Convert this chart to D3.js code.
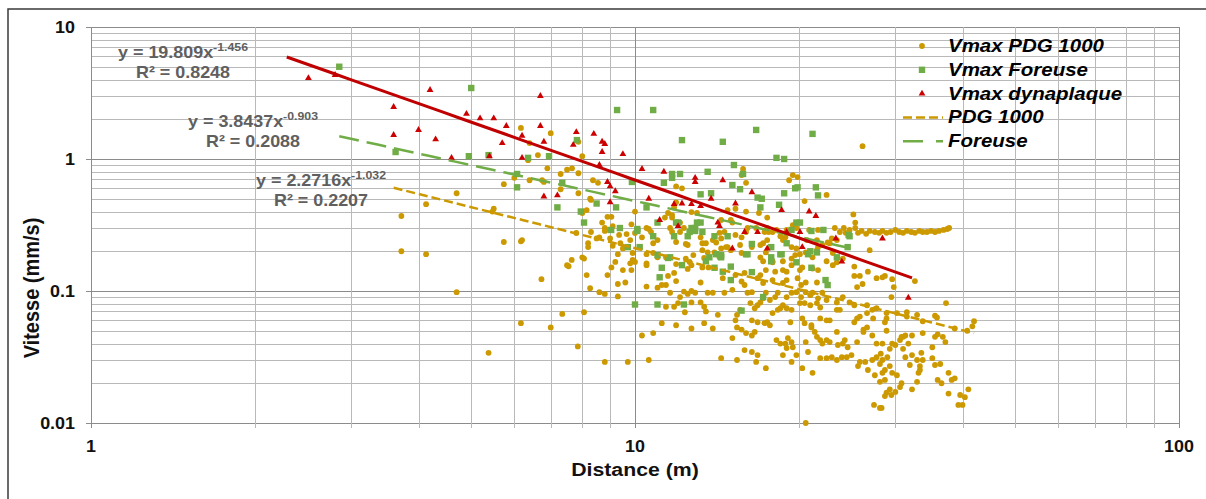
<!DOCTYPE html>
<html>
<head>
<meta charset="utf-8">
<script src="https://cdn.jsdelivr.net/npm/d3@7"></script>
<style>
  body { margin: 0; background: #fff; }
  text { font-family: "Liberation Sans", Arial, sans-serif; font-weight: bold; }
</style>
</head>
<body>
<div id="chart"></div>
<script>
// Vmax PDG 1000 : [distance (m), vitesse (mm/s)]
var pdgPoints = [
  [3.72,0.37],[4.13,0.455],[4.7,0.55],[5.5,0.42],[5.47,0.40],[5.74,0.645],[6.0,0.72],[6.17,1.72],[5.74,0.235],[6.17,0.238],
  [3.72,0.20],[4.13,0.19],[4.7,0.098],[5.38,0.034],[6.4,1.32],[6.63,1.07],[7.0,1.57],[7.87,1.35],[8.0,1.05],[6.36,0.98],
  [6.9,0.85],[7.3,0.77],[7.5,0.83],[7.66,0.85],[7.87,0.78],[6.8,0.67],[7.3,0.59],[7.87,0.55],[8.37,0.69],[8.55,0.66],
  [8.27,0.50],[8.0,0.39],[8.15,0.41],[8.3,0.49],[8.9,0.365],[8.8,0.30],[9.1,0.31],[9.35,0.266],[9.0,0.25],[9.4,0.23],
  [9.1,0.22],[9.65,0.215],[9.8,0.243],[10.0,0.40],[9.85,0.32],[10.0,0.275],[10.6,0.295],[10.5,0.19],[10.8,0.23],[11.0,0.18],
  [11.4,0.18],[11.7,0.376],[11.8,0.43],[12.2,0.60],[11.9,0.47],[12.3,0.30],[12.4,0.227],[13.3,0.23],[13.4,0.178],[12.8,0.29],
  [8.2,0.23],[8.3,0.28],[8.0,0.18],[6.2,0.243],[6.4,0.69],[6.75,0.69],[9.05,0.365],[8.6,0.255],[7.55,0.154],[8.06,0.176],
  [8.2,0.215],[6.73,0.123],[7.8,0.275],[8.5,0.25],[7.65,0.172],[8.9,0.29],[9.65,0.27],[9.3,0.19],[9.9,0.172],[9.5,0.144],
  [9.2,0.166],[8.9,0.132],[8.15,0.132],[7.5,0.157],
  [6.17,0.057],[7.0,0.053],[7.35,0.067],[8.06,0.069],[7.85,0.038],[8.27,0.105],[8.6,0.098],[8.8,0.095],[9.05,0.151],[9.3,0.113],
  [9.6,0.116],[9.3,0.091],[9.85,0.144],[9.8,0.162],[10.0,0.166],[10.5,0.162],[10.5,0.108],[10.3,0.046],[10.8,0.048],[8.8,0.029],
  [9.7,0.029],[10.6,0.03],[11.0,0.106],[11.2,0.111],[11.4,0.111],[11.5,0.13],[11.8,0.137],[11.9,0.119],[11.6,0.097],[11.4,0.076],
  [11.8,0.076],[12.1,0.09],[12.0,0.081],[12.3,0.099],[12.5,0.095],[12.7,0.1],[12.9,0.097],[12.35,0.069],[12.7,0.082],[13.2,0.082],
  [13.4,0.076],[13.5,0.07],[13.6,0.097],[13.9,0.097],[14.2,0.066],[11.2,0.057],[11.9,0.055],[12.7,0.052],[13.4,0.057],[13.9,0.052],
  [13.2,0.116],[12.5,0.147],[13.3,0.151],[12.6,0.166],[13.65,0.151],[11.9,0.16],[12.7,0.157],[12.4,0.176],[12.8,0.187],[13.3,0.204],
  [13.9,0.243],[14.4,0.25],[14.6,0.28],[10.8,0.194],[10.5,0.157],[12.1,0.28],[11.5,0.39],[11.7,0.36],[11.9,0.62],[12.7,0.396],
  [13.0,0.39],[11.7,0.28],[10.5,0.30],[10.3,0.255],[9.9,0.194],[10.2,0.215],[9.5,0.21],[8.7,0.33],[11.0,0.243],[11.9,0.235],
  [13.6,0.196],[14.1,0.233],[14.3,0.18],[11.35,0.36],
  [26.2,1.25],[15.8,0.84],[15.7,0.756],[16.0,0.66],[19.2,0.69],[19.5,0.756],[19.9,0.73],[20.5,0.48],[22.5,0.534],[17.5,0.36],
  [14.8,0.41],[16.0,0.40],[16.9,0.39],[25.2,0.38],[25.4,0.33],[17.5,0.30],[19.0,0.29],[19.5,0.316],[19.8,0.30],[18.5,0.26],
  [15.3,0.42],[15.0,0.345],[16.0,0.28],[15.7,0.255],[16.4,0.215],[17.4,0.196],[17.9,0.168],[18.7,0.168],[15.1,0.33],[14.4,0.345],
  [15.3,0.266],[16.1,0.30],[16.7,0.30],[17.3,0.28],[17.6,0.28],[18.2,0.29],[15.6,0.223],[17.2,0.23],[18.7,0.243],[19.4,0.215],
  [19.7,0.187],[20.7,0.243],[21.6,0.243],[22.1,0.223],[22.8,0.23],[23.5,0.243],[27.0,0.204],[14.4,0.21],[14.8,0.215],[15.7,0.194],
  [17.0,0.18],[18.9,0.255],[20.1,0.19],[22.6,0.233],[23.0,0.25],[20.9,0.29],[21.7,0.29],[23.3,0.30],[24.2,0.30],[25.4,0.30],
  [23.8,0.28],[24.4,0.276],[24.8,0.29],[25.7,0.276],[26.1,0.285],[26.6,0.271],[27.0,0.285],[27.6,0.28],[28.1,0.276],[28.5,0.285],
  [29.0,0.276],[29.5,0.28],[30.1,0.29],[30.6,0.28],[31.1,0.276],[31.6,0.285],[32.2,0.28],[32.7,0.276],[33.3,0.285],[33.8,0.28],
  [34.4,0.28],[35.0,0.285],[35.6,0.28],[36.2,0.285],[36.9,0.29],[37.5,0.295],[37.8,0.30],
  [28.5,0.127],[29.7,0.123],[29.9,0.107],[32.7,0.119],[29.6,0.09],[37.3,0.081],[25.6,0.107],[26.8,0.14],[27.8,0.125],[22.5,0.168],
  [23.1,0.194],[23.5,0.165],[24.1,0.176],[25.3,0.153],[21.6,0.204],[21.2,0.18],[20.6,0.196],[19.8,0.21],[19.4,0.176],
  [17.2,0.168],[17.9,0.165],[17.4,0.144],[18.1,0.14],[18.7,0.144],[19.0,0.14],[19.4,0.157],[20.1,0.144],[20.3,0.151],[21.2,0.148],
  [21.7,0.144],[23.1,0.157],[25.3,0.13],[25.9,0.13],[28.8,0.13],[26.2,0.113],[15.9,0.137],[15.7,0.118],[16.8,0.125],[17.0,0.132],
  [17.9,0.121],[18.7,0.115],[19.0,0.121],[17.2,0.115],[19.9,0.125],[20.2,0.111],[20.6,0.116],[20.6,0.098],[21.6,0.116],[14.5,0.125],
  [15.3,0.132],[14.6,0.097],[15.1,0.102],[15.9,0.111],[16.1,0.097],[16.4,0.098],[17.4,0.097],[17.7,0.0855],[18.1,0.09],[18.3,0.097],
  [19.0,0.09],[19.4,0.097],[19.8,0.098],[20.2,0.09],[21.0,0.093],[21.2,0.097],[21.7,0.088],[22.1,0.097],[22.5,0.0855],[23.5,0.082],
  [24.1,0.09],[24.8,0.082],[20.1,0.081],[20.5,0.081],[21.0,0.078],[21.6,0.081],[21.9,0.075],[18.5,0.074],[18.7,0.078],[18.3,0.072],
  [19.4,0.072],[17.9,0.068],[16.6,0.074],[16.8,0.078],[16.3,0.081],[17.0,0.082],[17.2,0.088],[15.4,0.066],[15.3,0.06],[15.6,0.072],
  [16.4,0.06],[16.8,0.058],[17.3,0.057],[17.5,0.058],[17.7,0.055],[19.0,0.074],[19.3,0.058],[20.3,0.062],[20.5,0.057],[21.1,0.055],
  [21.9,0.062],[22.5,0.06],[22.8,0.06],[23.5,0.072],[23.8,0.072],[25.3,0.058],[25.6,0.062],[25.9,0.064],[26.7,0.068],[27.3,0.072],
  [27.8,0.074],[27.4,0.062],[28.8,0.058],[29.0,0.068],[30.3,0.068],[31.6,0.069],[33.0,0.066],[26.3,0.051],[26.7,0.078],[25.3,0.078],
  [15.1,0.044],[15.4,0.053],[15.7,0.051],[16.0,0.048],[16.4,0.046],[16.6,0.049],[18.2,0.0425],[18.5,0.040],[18.9,0.040],[19.1,0.044],
  [19.4,0.041],[19.5,0.0375],[20.6,0.041],[21.1,0.053],[21.4,0.049],[21.6,0.045],[21.9,0.0425],[22.1,0.040],[22.5,0.0425],[22.8,0.041],
  [23.5,0.049],[23.6,0.039],[24.1,0.040],[24.3,0.0425],[24.6,0.0375],[25.6,0.041],[26.3,0.049],[26.7,0.053],[27.3,0.046],[27.8,0.040],
  [28.5,0.040],[29.4,0.0365],[30.7,0.0425],[30.9,0.045],[31.4,0.046],[32.3,0.046],[29.7,0.040],[31.1,0.0365],[14.4,0.031],[15.4,0.030],
  [15.9,0.0357],[16.4,0.0345],[16.8,0.0327],[16.7,0.029],[17.4,0.026],[18.7,0.0327],[19.0,0.037],[19.4,0.029],[19.8,0.0327],[20.3,0.026],
  [20.8,0.0345],[21.2,0.024],[21.9,0.031],[22.5,0.031],[23.0,0.0315],[23.5,0.030],[24.0,0.0315],[24.5,0.0315],[25.0,0.0327],[25.7,0.027],
  [25.9,0.029],[26.5,0.029],[26.8,0.0252],[27.3,0.030],[27.8,0.0315],[28.3,0.0335],[28.5,0.030],[29.1,0.0315],[29.4,0.027],[29.7,0.024],
  [30.3,0.023],[31.4,0.0315],[32.0,0.0275],[32.3,0.0327],[33.0,0.030],[33.4,0.027],[27.6,0.023],[28.5,0.024],[28.8,0.0212],[28.2,0.0205],
  [30.9,0.020],[30.7,0.0187],[29.4,0.018],[29.0,0.017],[28.8,0.016],[29.6,0.0163],[30.1,0.0172],[32.3,0.018],[33.2,0.024],[27.5,0.0137],
  [28.2,0.013],[20.6,0.010],
  [31.6,0.064],[33.8,0.059],[35.9,0.063],[38.7,0.052],[40.8,0.05],[41.7,0.054],[42.0,0.059],[29.0,0.062],[29.0,0.05],[31.1,0.045],
  [30.1,0.039],[31.8,0.040],[33.8,0.048],[35.6,0.045],[36.0,0.047],[36.8,0.045],[37.2,0.041],[33.6,0.034],[35.2,0.0375],[35.2,0.031],
  [33.8,0.030],[35.6,0.0275],[36.4,0.028],[33.4,0.0252],[33.0,0.0205],[28.4,0.013],[36.0,0.0212],[36.6,0.020],[37.7,0.024],[38.2,0.0212],
  [38.7,0.0218],[37.7,0.0167],[39.6,0.0163],[41.0,0.018],[40.4,0.0157],[39.3,0.0137],[40.0,0.0137],[28.2,0.028],[28.8,0.0252],[35.6,0.065],
  [8.8,0.285],[10.7,0.28],[11.6,0.30],[12.1,0.33],[12.5,0.223],[13.2,0.255],[13.5,0.23],[14.0,0.196],[14.3,0.276],[14.7,0.215],
  [15.0,0.204],[17.0,0.223],[17.5,0.243],[17.9,0.28],[21.7,0.215]
];

// Vmax Foreuse
var foreusePoints = [
  [2.86,5.0],[5.0,3.45],[3.63,1.13],[4.95,1.05],[5.38,1.07],[6.36,1.02],[6.95,1.05],[6.07,0.77],[6.07,0.61],[9.27,2.35],
  [10.8,2.35],[12.2,1.39],[14.5,1.35],[16.7,1.66],[7.82,1.39],[7.35,0.66],[7.2,0.43],[7.95,0.40],[8.06,0.33],[8.5,0.46],
  [9.23,0.43],[9.04,0.29],[9.38,0.30],[9.87,0.67],[10.5,0.43],[9.7,0.215],[10.2,0.215],[10.1,0.295],[10.8,0.26],[11.0,0.33],
  [11.3,0.66],[11.7,0.77],[12.1,0.77],[11.7,0.72],[11.9,0.33],[11.5,0.178],[11.8,0.26],[12.5,0.26],[12.7,0.30],[12.9,0.30],
  [13.0,0.33],[13.2,0.54],[13.6,0.8],[13.8,0.55],[14.0,0.26],[13.3,0.28],[13.7,0.18],[14.1,0.19],[21.2,1.55],[18.2,1.02],
  [18.8,1.0],[15.2,0.90],[15.8,0.77],[15.1,0.635],[15.6,0.59],[18.8,0.55],[19.7,0.60],[19.9,0.61],[21.5,0.61],[21.7,0.53],
  [16.8,0.51],[17.1,0.50],[17.0,0.43],[18.4,0.45],[19.8,0.33],[20.1,0.33],[19.4,0.29],[21.1,0.285],[22.2,0.29],[24.8,0.26],
  [16.4,0.227],[17.8,0.215],[19.0,0.23],[21.6,0.196],[14.4,0.18],[16.1,0.19],[17.8,0.18],[18.6,0.19],[20.8,0.19],[23.5,0.18],
  [14.8,0.26],[10.1,0.285],[11.0,0.187],[11.6,0.18],[11.2,0.15],[11.1,0.127],[12.2,0.157],[12.3,0.079],[11.0,0.079],[10.0,0.079],
  [12.0,0.33],[12.9,0.285],[13.2,0.33],[12.6,0.28],[14.4,0.187],[15.0,0.153],[15.0,0.121],[16.0,0.19],[15.7,0.071],[16.4,0.139],
  [17.2,0.09],[18.5,0.19],[19.8,0.165],[21.0,0.2],[21.1,0.15],[22.4,0.121],[22.6,0.111],[24.7,0.266],[24.6,0.215],[13.5,0.168],
  [14.0,0.15],[14.5,0.14],[17.8,0.168]
];

// Vmax dynaplaque
var dynaPoints = [
  [2.51,4.1],[2.81,4.33],[3.6,2.48],[4.2,3.33],[3.6,1.52],[4.0,1.66],[4.3,1.41],[4.6,1.02],[4.9,2.2],[5.19,2.03],
  [5.5,2.03],[5.8,1.78],[5.7,1.32],[5.4,1.05],[6.2,1.02],[6.2,1.5],[6.7,3.0],[6.7,1.78],[6.8,1.35],[7.8,1.6],
  [7.7,1.28],[8.4,1.55],[8.7,1.35],[8.8,1.3],[8.7,1.13],[9.5,1.09],[8.6,0.9],[6.8,0.52],[7.2,0.53],[8.9,0.67],
  [9.0,0.62],[9.2,0.57],[9.0,0.47],[10.3,0.84],[11.3,0.8],[12.9,0.72],[12.9,0.67],[14.5,0.69],[16.4,0.56],[15.3,0.46],
  [18.6,0.41],[20.9,0.4],[21.5,0.37],[11.1,0.345],[12.0,0.31],[14.2,0.33],[14.3,0.31],[15.9,0.28],[16.8,0.28],[15.1,0.21],
  [17.5,0.21],[20.1,0.28],[20.3,0.215],[23.4,0.25],[24.0,0.167],[28.5,0.25],[31.8,0.089],[10.6,0.5],[11.8,0.455],[12.2,0.46],
  [12.7,0.455],[13.2,0.44],[13.8,0.5],[19.0,0.28]
];

// power trendlines y = a * x^b  (PDG 1000, Foreuse, dynaplaque)
var fitA = [2.2716, 3.8437, 19.809];
var fitB = [-1.032, -0.903, -1.456];
var fitR2 = ["0.2207", "0.2088", "0.8248"];
var fitStart = [3.6, 2.86, 2.29];
var fitEnd = [42.0, 24.8, 32.3];

var xGridDecades = [1, 10];
var yGridDecades = [0.01, 0.1, 1];
var xTickValues = [1, 10, 100];
var xTickLabels = ["1", "10", "100"];
var yTickValues = [0.01, 0.1, 1, 10];
var yTickLabels = ["0.01", "0.1", "1", "10"];
var legendLabels = ["Vmax PDG 1000", "Vmax Foreuse", "Vmax dynaplaque", "PDG 1000", "Foreuse"];

var width = 1206, height = 499;
var textStretch = 1.12;
var gold = "#CC9900", green = "#70AD47", red = "#CC0000", darkRed = "#C00000";
var minorGrid = "#b9b9b9", majorGrid = "#8c8c8c";

var svg = d3.select("#chart").append("svg")
  .attr("width", width)
  .attr("height", height);

svg.append("rect")
  .attr("width", width)
  .attr("height", height)
  .attr("fill", "#fff");

// outer frame (top & left edge visible)
svg.append("path")
  .attr("d", `M8,${height} L8,9 L${width},9`)
  .attr("fill", "none")
  .attr("stroke", "#3a3a3a")
  .attr("stroke-width", 1.5);

var x = d3.scaleLog().domain([1, 100]).range([91, 1179]);
var y = d3.scaleLog().domain([0.01, 10]).range([423, 27]);

function isMajor(v) {
  var l = Math.log10(v);
  return Math.abs(l - Math.round(l)) < 1e-9;
}

function stretched(g, px, py) {
  return g.append("text")
    .attr("transform", `translate(${px},${py}) scale(${textStretch},1)`);
}

var xGrid = [];
xGridDecades.forEach(d => d3.range(1, 10).forEach(k => xGrid.push(d * k)));
xGrid.push(100);
var yGrid = [];
yGridDecades.forEach(d => d3.range(1, 10).forEach(k => yGrid.push(d * k)));
yGrid.push(10);

var grid = svg.append("g").attr("class", "grid");

grid.selectAll(".hline").data(yGrid)
  .enter().append("line")
  .attr("x1", d => isMajor(d) ? x(1) - 5 : x(1))
  .attr("x2", x(100))
  .attr("y1", d => Math.round(y(d)) + 0.5)
  .attr("y2", d => Math.round(y(d)) + 0.5)
  .attr("stroke", d => isMajor(d) ? majorGrid : minorGrid)
  .attr("stroke-width", 1);

grid.selectAll(".vline").data(xGrid)
  .enter().append("line")
  .attr("x1", d => Math.round(x(d)) + 0.5)
  .attr("x2", d => Math.round(x(d)) + 0.5)
  .attr("y1", y(10))
  .attr("y2", y(0.01) + 5)
  .attr("stroke", d => isMajor(d) ? majorGrid : minorGrid)
  .attr("stroke-width", 1);

// tick labels
var labels = svg.append("g").attr("fill", "#111");
yTickValues.forEach((v, i) => {
  stretched(labels, 75, y(v) + 5.5)
    .attr("text-anchor", "end")
    .attr("font-size", 16)
    .text(yTickLabels[i]);
});
xTickValues.forEach((v, i) => {
  stretched(labels, x(v), 452)
    .attr("text-anchor", "middle")
    .attr("font-size", 16)
    .text(xTickLabels[i]);
});

// axis titles
stretched(labels, x(10), 476)
  .attr("text-anchor", "middle")
  .attr("font-size", 19)
  .text("Distance (m)");

labels.append("text")
  .attr("transform", "translate(39,288) rotate(-90) scale(1,1.12)")
  .attr("text-anchor", "middle")
  .attr("font-size", 20)
  .text("Vitesse (mm/s)");

// scatter series
var points = svg.append("g");

points.selectAll(".pdg").data(pdgPoints)
  .enter().append("circle")
  .attr("cx", d => x(d[0]))
  .attr("cy", d => y(d[1]))
  .attr("r", 2.9)
  .attr("fill", gold);

points.selectAll(".foreuse").data(foreusePoints)
  .enter().append("rect")
  .attr("x", d => x(d[0]) - 3.2)
  .attr("y", d => y(d[1]) - 3.2)
  .attr("width", 6.4)
  .attr("height", 6.4)
  .attr("fill", green);

var triangle = d3.symbol().type(d3.symbolTriangle).size(20);
points.selectAll(".dyna").data(dynaPoints)
  .enter().append("path")
  .attr("d", triangle)
  .attr("transform", d => `translate(${x(d[0])},${y(d[1])})`)
  .attr("fill", red);

// trendlines
var trendStyles = [
  { color: gold, width: 2.5, dash: "9,4" },
  { color: green, width: 2.5, dash: "20,8" },
  { color: darkRed, width: 3, dash: null }
];

var line = d3.line()
  .x(d => x(d[0]))
  .y(d => y(d[1]));

fitA.forEach((a, i) => {
  var l0 = Math.log10(fitStart[i]), l1 = Math.log10(fitEnd[i]);
  var pts = d3.range(0, 41).map(k => {
    var xv = Math.pow(10, l0 + (l1 - l0) * k / 40);
    return [xv, a * Math.pow(xv, fitB[i])];
  });
  svg.append("path")
    .datum(pts)
    .attr("d", line)
    .attr("fill", "none")
    .attr("stroke", trendStyles[i].color)
    .attr("stroke-width", trendStyles[i].width)
    .attr("stroke-dasharray", trendStyles[i].dash);
});

// trendline equations
var eqPos = [[321, 186], [253, 127], [183, 58]];
var eqGroup = svg.append("g").attr("fill", "#5f5f5f");
fitA.forEach((a, i) => {
  var t = stretched(eqGroup, eqPos[i][0], eqPos[i][1])
    .attr("text-anchor", "middle")
    .attr("font-size", 16);
  t.append("tspan").text(`y = ${a}x`);
  t.append("tspan")
    .attr("font-size", 11)
    .attr("dy", -7)
    .text(fitB[i].toFixed(3));
  stretched(eqGroup, eqPos[i][0], eqPos[i][1] + 20)
    .attr("text-anchor", "middle")
    .attr("font-size", 16)
    .text(`R² = ${fitR2[i]}`);
});

// legend
var legend = svg.append("g").attr("transform", "translate(922,46)");
var rowH = 23.8;

legend.append("circle").attr("cx", 0).attr("cy", 0).attr("r", 2.9).attr("fill", gold);
legend.append("rect").attr("x", -3.2).attr("y", rowH - 3.2).attr("width", 6.4).attr("height", 6.4).attr("fill", green);
legend.append("path").attr("d", triangle).attr("transform", `translate(0,${rowH * 2})`).attr("fill", red);
legend.append("line")
  .attr("x1", -19).attr("x2", 21)
  .attr("y1", rowH * 3).attr("y2", rowH * 3)
  .attr("stroke", gold).attr("stroke-width", 2.5).attr("stroke-dasharray", "9,4");
legend.append("line")
  .attr("x1", -19).attr("x2", 21)
  .attr("y1", rowH * 4).attr("y2", rowH * 4)
  .attr("stroke", green).attr("stroke-width", 2.5).attr("stroke-dasharray", "20,13");

legendLabels.forEach((label, i) => {
  stretched(legend, 26, rowH * i + 6)
    .attr("font-size", 18.3)
    .attr("font-style", "italic")
    .attr("fill", "#000")
    .text(label);
});
</script>
</body>
</html>
